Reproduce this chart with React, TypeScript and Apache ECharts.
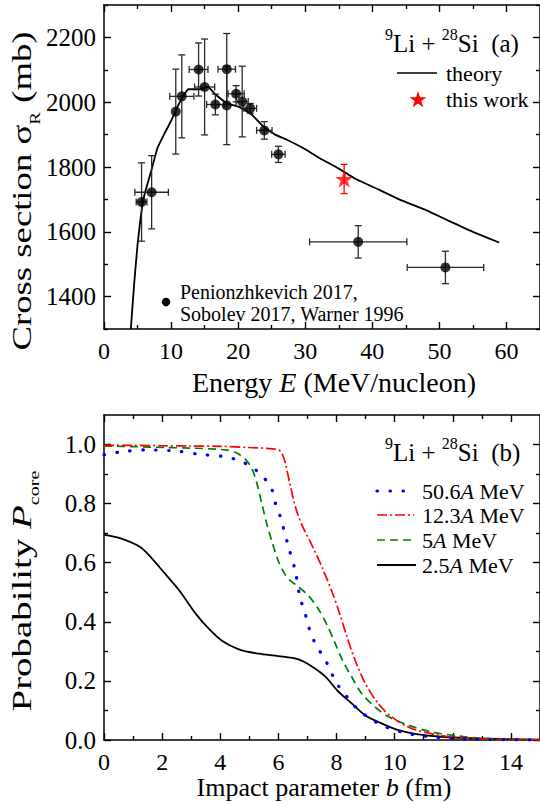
import React, { useEffect, useRef } from 'react';
import * as echarts from 'echarts';

// ---------- Panel (a): reaction cross section ----------
const expEnergy = [5.6, 7.1, 10.7, 11.6, 14.1, 15.0, 16.6, 18.3, 18.3, 19.7, 20.6, 21.8, 23.9, 26.0, 37.9, 50.9];
const expSigma = [1692, 1722, 1971, 2018, 2101, 2047, 1993, 2102, 1990, 2026, 2002, 1981, 1913, 1839, 1569, 1490];
const expEnergyErr = [0.8, 2.5, 0, 1.8, 1.4, 1.5, 1.3, 1.3, 0, 1.2, 0.9, 0.95, 1.15, 1.0, 7.25, 5.7];
const expSigmaErr = [121, 113, 131, 128, 82, 148, 32, 110, 121, 25, 109, 15, 27, 25, 50, 50];

const thisWorkEnergy = [35.8];
const thisWorkSigma = [1763];
const thisWorkSigmaErr = [45];

const theoryEnergy = [4.0, 4.5, 5.0, 5.5, 6.0, 7.0, 8.0, 9.0, 10.0, 11.0, 12.0, 12.6, 14.3, 15.5, 16.5, 18.3, 20.2, 22.0, 23.7, 25.5, 27.2, 30.0, 32.1, 35.0, 37.6, 41.0, 44.0, 48.0, 51.5, 55.0, 58.9];
const theorySigma = [1300, 1440, 1560, 1650, 1712, 1785, 1860, 1903, 1942, 1988, 2025, 2040, 2040, 2047, 2026, 1997, 1985, 1962, 1926, 1900, 1885, 1855, 1828, 1795, 1762, 1730, 1700, 1667, 1633, 1600, 1567];

const energyTicks = [0, 10, 20, 30, 40, 50, 60];
const energyMinorTicks = [5, 15, 25, 35, 45, 55];
const sigmaTicks = [1400, 1600, 1800, 2000, 2200];
const sigmaMinorTicks = [1300, 1500, 1700, 1900, 2100, 2300];

// ---------- Panel (b): core survival probability ----------
const b50 = [0, 0.55, 1.46, 2.5, 3.28, 4.07, 4.53, 4.87, 5.21, 5.51, 5.78, 5.9, 6.06, 6.33, 6.58, 6.74, 6.91, 7.03, 7.2, 7.43, 7.66, 7.88, 8.11, 8.4, 8.74, 9.14, 9.53, 9.99, 10.56, 11.5, 12.5, 15];
const p50 = [0.965, 0.975, 0.982, 0.978, 0.967, 0.96, 0.95, 0.936, 0.915, 0.887, 0.847, 0.8, 0.757, 0.66, 0.572, 0.483, 0.432, 0.387, 0.341, 0.3, 0.262, 0.216, 0.176, 0.142, 0.102, 0.074, 0.051, 0.034, 0.02, 0.008, 0.003, 0.0];

const b12 = [0, 1, 2, 3, 4, 5, 5.6, 6.0, 6.12, 6.23, 6.4, 6.58, 6.8, 7.15, 7.5, 7.85, 8.1, 8.34, 8.62, 8.97, 9.42, 9.87, 10.56, 11.47, 12.4, 13.5, 15];
const p12 = [0.997, 0.997, 0.996, 0.995, 0.994, 0.99, 0.987, 0.982, 0.97, 0.94, 0.865, 0.79, 0.73, 0.66, 0.585, 0.5, 0.43, 0.355, 0.275, 0.195, 0.125, 0.08, 0.04, 0.017, 0.006, 0.002, 0.0];

const b5 = [0, 1, 2.1, 3, 4.18, 4.53, 4.87, 5.1, 5.27, 5.44, 5.61, 5.78, 6.0, 6.2, 6.4, 6.63, 7.03, 7.37, 7.66, 7.94, 8.22, 8.51, 8.85, 9.3, 9.76, 10.44, 11.24, 12.15, 13, 14, 15];
const p5 = [0.995, 0.993, 0.99, 0.988, 0.982, 0.973, 0.95, 0.916, 0.865, 0.796, 0.728, 0.671, 0.605, 0.565, 0.54, 0.523, 0.489, 0.444, 0.392, 0.33, 0.267, 0.216, 0.159, 0.114, 0.08, 0.051, 0.028, 0.014, 0.006, 0.002, 0.001];

const b25 = [0, 0.55, 1.23, 1.6, 2.02, 2.59, 3.16, 3.62, 4.07, 4.64, 5.32, 6.0, 6.69, 7.14, 7.6, 8.05, 8.51, 8.97, 9.53, 10.1, 10.75, 11.6, 12.9, 15];
const p25 = [0.694, 0.683, 0.654, 0.62, 0.572, 0.506, 0.427, 0.375, 0.335, 0.307, 0.292, 0.284, 0.273, 0.25, 0.216, 0.165, 0.125, 0.085, 0.057, 0.034, 0.02, 0.011, 0.005, 0.001];

const impactTicks = [0, 2, 4, 6, 8, 10, 12, 14];
const impactMinorTicks = [1, 3, 5, 7, 9, 11, 13];
const probTicks = [0, 0.2, 0.4, 0.6, 0.8, 1.0];
const probMinorTicks = [0.1, 0.3, 0.5, 0.7, 0.9];

const serif = 'Liberation Serif';

function zip(a: number[], b: number[]) {
  return a.map((v, i) => [v, b[i]]);
}

function axis(
  gridIndex: number,
  position: string,
  min: number,
  max: number,
  ticks: number[],
  len: number,
  showLine: boolean,
  label?: (v: number) => string
) {
  return {
    type: 'value',
    gridIndex,
    position,
    min,
    max,
    axisLine: { show: showLine, onZero: false, lineStyle: { color: '#000', width: 1.5 } },
    axisTick: { show: true, inside: true, length: len, customValues: ticks, lineStyle: { color: '#000', width: 1.4 } },
    axisLabel: label
      ? {
          show: true,
          customValues: ticks,
          fontSize: position === 'bottom' ? 24 : 25,
          fontFamily: serif,
          color: '#000',
          margin: position === 'bottom' ? 10 : 8,
          formatter: label,
        }
      : { show: false },
    splitLine: { show: false },
    minorTick: { show: false },
  };
}

function errorBars(xs: number[], ys: number[], xerr: number[], yerr: number[], color: string, axisIdx: number, z: number) {
  return {
    type: 'custom',
    xAxisIndex: axisIdx,
    yAxisIndex: axisIdx,
    z,
    silent: true,
    data: xs.map((x, i) => [x, ys[i], xerr[i], yerr[i]]),
    encode: { x: 0, y: 1 },
    renderItem: (_params: any, api: any) => {
      const x = api.value(0);
      const y = api.value(1);
      const xe = api.value(2);
      const ye = api.value(3);
      const cap = 3.5;
      const style = { stroke: color, lineWidth: 1.3 };
      const ch: any[] = [];
      if (ye > 0) {
        const t = api.coord([x, y + ye]);
        const b = api.coord([x, y - ye]);
        ch.push({ type: 'line', shape: { x1: t[0], y1: t[1], x2: b[0], y2: b[1] }, style });
        ch.push({ type: 'line', shape: { x1: t[0] - cap, y1: t[1], x2: t[0] + cap, y2: t[1] }, style });
        ch.push({ type: 'line', shape: { x1: b[0] - cap, y1: b[1], x2: b[0] + cap, y2: b[1] }, style });
      }
      if (xe > 0) {
        const l = api.coord([x - xe, y]);
        const r = api.coord([x + xe, y]);
        ch.push({ type: 'line', shape: { x1: l[0], y1: l[1], x2: r[0], y2: r[1] }, style });
        ch.push({ type: 'line', shape: { x1: l[0], y1: l[1] - cap, x2: l[0], y2: l[1] + cap }, style });
        ch.push({ type: 'line', shape: { x1: r[0], y1: r[1] - cap, x2: r[0], y2: r[1] + cap }, style });
      }
      return { type: 'group', children: ch };
    },
  };
}

const STAR =
  'path://M50,0L61.23,34.55L97.55,34.55L68.16,55.9L79.39,90.45L50,69.1L20.61,90.45L31.84,55.9L2.45,34.55L38.77,34.55Z';

function starPoints(cx: number, cy: number, R: number) {
  const pts: number[][] = [];
  for (let k = 0; k < 10; k++) {
    const r = k % 2 === 0 ? R : R * 0.382;
    const a = (-90 + k * 36) * (Math.PI / 180);
    pts.push([cx + r * Math.cos(a), cy + r * Math.sin(a)]);
  }
  return pts;
}

const richBase = {
  m: { fontSize: 25, fontFamily: serif, fill: '#000', color: '#000', lineHeight: 34 },
  sup: { fontSize: 16, fontFamily: serif, fill: '#000', color: '#000', verticalAlign: 'top', lineHeight: 16 },
  n: { fontSize: 22, fontFamily: serif, fill: '#000', color: '#000' },
  i: { fontSize: 22, fontFamily: serif, fill: '#000', color: '#000', fontStyle: 'italic' },
};

function plainText(x: number, y: number, text: string, fontSize: number) {
  return {
    type: 'text',
    x,
    y,
    silent: true,
    style: { text, fontSize, fontFamily: serif, fill: '#000', align: 'left', verticalAlign: 'middle' },
  };
}

function legendLabel(x: number, y: number, num: string) {
  return {
    type: 'text',
    x,
    y,
    silent: true,
    style: {
      text: `{n|${num}}{i|A}{n| MeV}`,
      rich: richBase,
      align: 'left',
      verticalAlign: 'middle',
    },
  };
}

function legendLine(y: number, x2: number, stroke: string, lineWidth: number, lineDash: any, lineCap = 'butt') {
  return {
    type: 'line',
    silent: true,
    shape: { x1: 377, y1: y, x2, y2: y },
    style: { stroke, lineWidth, lineDash, lineCap },
  };
}

export default function App() {
  const ref = useRef<HTMLDivElement>(null);

  useEffect(() => {
    if (!ref.current) return;
    const chart = echarts.init(ref.current, undefined, { renderer: 'svg' });

    const intLabel = (v: number) => String(v);
    const decLabel = (v: number) => v.toFixed(1);

    const option: any = {
      animation: false,
      backgroundColor: '#fff',
      textStyle: { fontFamily: serif },
      grid: [
        { left: 104, top: 5, width: 439, height: 324 },
        { left: 104, top: 415, width: 439, height: 325 },
      ],
      xAxis: [
        axis(0, 'bottom', 0, 65, energyTicks, 7, true, intLabel),
        axis(0, 'bottom', 0, 65, energyMinorTicks, 4, false),
        axis(0, 'top', 0, 65, energyTicks, 7, true),
        axis(0, 'top', 0, 65, energyMinorTicks, 4, false),
        axis(1, 'bottom', 0, 15, impactTicks, 7, true, intLabel),
        axis(1, 'bottom', 0, 15, impactMinorTicks, 4, false),
        axis(1, 'top', 0, 15, impactTicks, 7, true),
        axis(1, 'top', 0, 15, impactMinorTicks, 4, false),
      ],
      yAxis: [
        axis(0, 'left', 1300, 2300, sigmaTicks, 7, true, intLabel),
        axis(0, 'left', 1300, 2300, sigmaMinorTicks, 4, false),
        axis(0, 'right', 1300, 2300, sigmaTicks, 7, true),
        axis(0, 'right', 1300, 2300, sigmaMinorTicks, 4, false),
        axis(1, 'left', 0, 1.1, probTicks, 7, true, decLabel),
        axis(1, 'left', 0, 1.1, probMinorTicks, 4, false),
        axis(1, 'right', 0, 1.1, probTicks, 7, true),
        axis(1, 'right', 0, 1.1, probMinorTicks, 4, false),
      ],
      series: [
        {
          type: 'line',
          name: 'theory',
          xAxisIndex: 0,
          yAxisIndex: 0,
          data: zip(theoryEnergy, theorySigma),
          showSymbol: false,
          symbol: 'none',
          smooth: 0.15,
          lineStyle: { color: '#000', width: 1.8 },
          z: 3,
          silent: true,
        },
        errorBars(expEnergy, expSigma, expEnergyErr, expSigmaErr, '#2a2a2a', 0, 4),
        {
          type: 'scatter',
          name: 'Penionzhkevich 2017, Sobolev 2017, Warner 1996',
          xAxisIndex: 0,
          yAxisIndex: 0,
          data: zip(expEnergy, expSigma),
          symbol: 'circle',
          symbolSize: 10,
          itemStyle: { color: '#000' },
          z: 5,
          silent: true,
        },
        errorBars(thisWorkEnergy, thisWorkSigma, [0], thisWorkSigmaErr, '#ff0000', 0, 4),
        {
          type: 'scatter',
          name: 'this work',
          xAxisIndex: 0,
          yAxisIndex: 0,
          data: zip(thisWorkEnergy, thisWorkSigma),
          symbol: STAR,
          symbolSize: [18, 17],
          itemStyle: { color: '#ff0000' },
          z: 6,
          silent: true,
        },
        {
          type: 'line',
          name: '2.5A MeV',
          xAxisIndex: 4,
          yAxisIndex: 4,
          data: zip(b25, p25),
          showSymbol: false,
          symbol: 'none',
          smooth: 0.3,
          lineStyle: { color: '#000', width: 1.8 },
          silent: true,
        },
        {
          type: 'line',
          name: '5A MeV',
          xAxisIndex: 4,
          yAxisIndex: 4,
          data: zip(b5, p5),
          showSymbol: false,
          symbol: 'none',
          smooth: 0.3,
          lineStyle: { color: '#008000', width: 1.7, type: [8, 5] },
          silent: true,
        },
        {
          type: 'line',
          name: '12.3A MeV',
          xAxisIndex: 4,
          yAxisIndex: 4,
          data: zip(b12, p12),
          showSymbol: false,
          symbol: 'none',
          smooth: 0.3,
          lineStyle: { color: '#ff0000', width: 1.7, type: [10, 3, 2, 3] },
          silent: true,
        },
        {
          type: 'line',
          name: '50.6A MeV',
          xAxisIndex: 4,
          yAxisIndex: 4,
          data: zip(b50, p50),
          showSymbol: false,
          symbol: 'none',
          smooth: 0.3,
          lineStyle: { color: '#0000ff', width: 3.2, type: [0.5, 12.5], cap: 'round' },
          silent: true,
        },
      ],
      graphic: [
        // axis titles
        {
          type: 'text',
          x: 334,
          y: 382,
          silent: true,
          style: {
            text: '{m|Energy }{e|E}{m| (MeV/nucleon)}',
            rich: {
              m: { fontSize: 28, fontFamily: serif, fill: '#000', color: '#000' },
              e: { fontSize: 28, fontFamily: serif, fill: '#000', color: '#000', fontStyle: 'italic' },
            },
            align: 'center',
            verticalAlign: 'middle',
          },
        },
        {
          type: 'text',
          x: 324,
          y: 787,
          silent: true,
          style: {
            text: '{m|Impact parameter }{e|b}{m| (fm)}',
            rich: {
              m: { fontSize: 26, fontFamily: serif, fill: '#000', color: '#000' },
              e: { fontSize: 26, fontFamily: serif, fill: '#000', color: '#000', fontStyle: 'italic' },
            },
            align: 'center',
            verticalAlign: 'middle',
          },
        },
        {
          type: 'text',
          x: 22,
          y: 191,
          rotation: Math.PI / 2,
          scaleX: 1.36,
          silent: true,
          style: {
            text: '{m|Cross section σ}{s|R}{m| (mb)}',
            rich: {
              m: { fontSize: 27, fontFamily: serif, fill: '#000', color: '#000', lineHeight: 40 },
              s: { fontSize: 14, fontFamily: serif, fill: '#000', color: '#000', verticalAlign: 'bottom', lineHeight: 14 },
            },
            align: 'center',
            verticalAlign: 'middle',
          },
        },
        {
          type: 'text',
          x: 22,
          y: 591,
          rotation: Math.PI / 2,
          scaleX: 1.44,
          silent: true,
          style: {
            text: '{m|Probability }{e|P}{s|core}',
            rich: {
              m: { fontSize: 27, fontFamily: serif, fill: '#000', color: '#000', lineHeight: 40 },
              e: { fontSize: 27, fontFamily: serif, fill: '#000', color: '#000', fontStyle: 'italic', lineHeight: 40 },
              s: { fontSize: 14, fontFamily: serif, fill: '#000', color: '#000', verticalAlign: 'bottom', lineHeight: 14 },
            },
            align: 'center',
            verticalAlign: 'middle',
          },
        },
        // panel (a) legend
        {
          type: 'text',
          x: 385,
          y: 43,
          silent: true,
          style: {
            text: '{sup|9}{m|Li + }{sup|28}{m|Si\u00a0\u00a0(a)}',
            rich: richBase,
            align: 'left',
            verticalAlign: 'middle',
          },
        },
        {
          type: 'line',
          silent: true,
          shape: { x1: 397, y1: 73, x2: 437, y2: 73 },
          style: { stroke: '#000', lineWidth: 1.6 },
        },
        plainText(446, 73, 'theory', 22),
        {
          type: 'polygon',
          silent: true,
          shape: { points: starPoints(418, 100, 9) },
          style: { fill: '#ff0000' },
        },
        plainText(446, 99, 'this work', 22),
        {
          type: 'circle',
          silent: true,
          shape: { cx: 166, cy: 302, r: 4.2 },
          style: { fill: '#000' },
        },
        plainText(180, 292, 'Penionzhkevich 2017,', 20),
        plainText(180, 314, 'Sobolev 2017, Warner 1996', 20),
        // panel (b) legend
        {
          type: 'text',
          x: 385,
          y: 452,
          silent: true,
          style: {
            text: '{sup|9}{m|Li + }{sup|28}{m|Si\u00a0\u00a0(b)}',
            rich: richBase,
            align: 'left',
            verticalAlign: 'middle',
          },
        },
        legendLine(491, 408, '#0000ff', 3.2, [0.5, 12.5], 'round'),
        legendLabel(422, 491, '50.6'),
        legendLine(515, 414, '#ff0000', 1.7, [10, 3, 2, 3]),
        legendLabel(422, 515, '12.3'),
        legendLine(540, 416, '#008000', 1.7, [8, 5]),
        legendLabel(422, 540, '5'),
        legendLine(565, 416, '#000', 1.8, null),
        legendLabel(422, 565, '2.5'),
      ],
    };

    chart.setOption(option);
    return () => {
      chart.dispose();
    };
  }, []);

  return (
    <div
      ref={ref}
      style={{ position: 'fixed', left: 0, top: 0, width: 540, height: 805, background: '#fff' }}
    />
  );
}
